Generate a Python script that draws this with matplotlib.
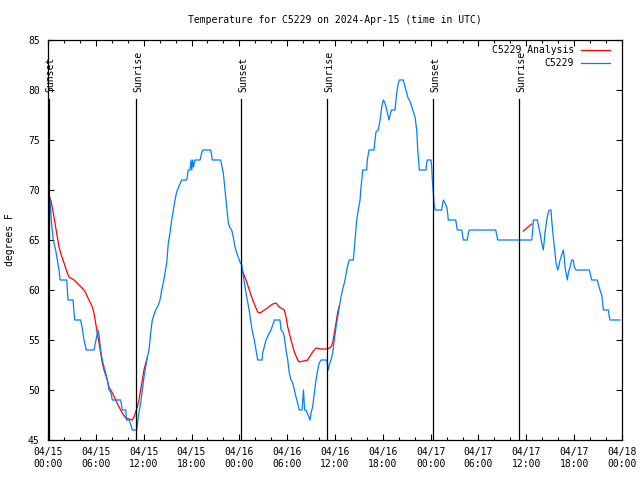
import numpy as np
import matplotlib
matplotlib.use('Agg')
import matplotlib.pyplot as plt
from matplotlib.ticker import MultipleLocator, FixedLocator

# hours since 2024-04-15 00:00 UTC
obs_hours = [0.00, 0.25, 0.41, 0.66, 0.96, 1.17, 1.38, 1.51, 2.35, 2.51, 3.14, 3.35, 4.10, 4.33, 4.52,
             4.80, 5.77, 6.02, 6.27, 6.40, 6.61, 6.81, 7.03, 7.24, 7.44, 7.65, 7.87, 8.07, 8.28, 9.12,
             9.32, 9.75, 9.85, 10.16, 10.41, 10.57, 11.13, 11.20, 11.35, 11.63, 11.83, 12.04, 12.46,
             12.67, 12.88, 13.08, 13.51, 13.84, 14.05, 14.26, 14.46, 14.68, 14.89, 15.09, 15.30, 15.52,
             15.72, 15.93, 16.14, 16.34, 16.77, 17.40, 17.60, 17.81, 17.94, 18.03, 18.15, 18.25, 18.44,
             19.07, 19.28, 19.41, 20.41, 20.61, 21.66, 21.83, 21.99, 22.20, 22.42, 22.62, 22.83, 23.04,
             23.24, 23.46, 23.67, 23.87, 24.08, 24.30, 24.52, 24.84, 25.25, 25.46, 25.68, 25.88, 26.09,
             26.30, 26.84, 26.93, 27.13, 27.35, 27.76, 27.97, 28.19, 28.39, 29.10, 29.23, 29.48, 29.64,
             29.86, 30.07, 30.27, 30.48, 30.70, 30.90, 31.11, 31.32, 31.52, 31.86, 31.95, 32.05, 32.18,
             32.36, 32.61, 32.87, 32.99, 33.20, 33.40, 33.62, 33.83, 34.03, 34.25, 34.96, 35.16, 35.31,
             35.50, 35.71, 35.91, 36.13, 36.34, 36.54, 36.75, 37.04, 37.26, 37.47, 37.67, 37.80, 38.30,
             38.38, 38.51, 38.72, 38.92, 39.14, 39.23, 39.35, 39.48, 39.98, 40.05, 40.27, 40.89, 41.02,
             41.14, 41.43, 41.65, 41.86, 42.06, 42.27, 42.49, 42.69, 42.78, 42.99, 43.11, 43.53, 43.74,
             43.94, 44.07, 44.57, 44.78, 45.00, 45.16, 45.32, 45.50, 45.75, 46.04, 46.25, 46.38, 46.58,
             47.42, 47.50, 47.58, 48.04, 48.13, 48.21, 48.33, 48.42, 48.55, 49.39, 49.51, 49.59, 49.80,
             50.01, 50.11, 50.21, 51.14, 51.24, 51.34, 51.90, 52.00, 52.10, 52.60, 52.72, 52.85, 56.16,
             56.28, 56.41, 60.68, 60.80, 60.88, 61.38, 61.50, 61.72, 61.93, 62.13, 62.34, 62.56, 62.76,
             62.88, 63.10, 63.18, 63.38, 63.60, 63.72, 63.94, 64.06, 64.23, 64.64, 64.77, 64.85, 64.98,
             65.14, 65.27, 65.48, 65.69, 65.89, 66.02, 66.23, 67.90, 68.05, 68.20, 68.90, 69.05, 69.24,
             69.46, 69.58, 69.66, 70.28, 70.41, 70.50, 71.75]
obs_temp = [70, 69, 67, 65, 64, 63, 62, 61, 61, 59, 59, 57, 57, 56, 55,
            54, 54, 55, 56, 55.5, 54, 53, 52.3, 51.7, 51, 50, 49.8, 49, 49, 49,
            48, 48, 47, 47, 46.5, 46, 46, 46.5, 47.5, 48.7, 50, 51.3, 53.3,
            54, 55.7, 57, 58, 58.5, 59, 60, 60.7, 61.7, 62.7, 64.7, 65.7, 67,
            68, 69, 69.8, 70.2, 71, 71, 72, 72, 73, 72, 73, 72.3, 73,
            73, 73.7, 74, 74, 73, 73, 72.3, 71.7, 70, 68.3, 66.7, 66.2, 66,
            65.3, 64.3, 63.7, 63.3, 62.8, 62.5, 61.3, 59.7, 57.9, 56.7, 55.7, 55, 54,
            53, 53, 53.7, 54.3, 55, 55.7, 56, 56.5, 57, 57, 56, 55.8, 55.3,
            54, 53, 51.7, 51, 50.7, 50, 49.3, 48.7, 48, 48, 49, 50, 48,
            48, 47.5, 47, 47.7, 48.3, 49.7, 51, 52, 52.7, 53, 53, 52, 52.6,
            53, 53.7, 55, 56.3, 57.3, 58.3, 59.3, 60.3, 61, 62, 62.7, 63, 63,
            63.7, 65, 67, 68, 69, 70, 71, 72, 72, 73, 74, 74, 75,
            75.8, 76, 77, 78.3, 79, 78.7, 78, 77.3, 77, 77.8, 78, 78, 79.7,
            80.7, 81, 81, 80.3, 79.7, 79.2, 79, 78.7, 78, 77.3, 76, 74, 72,
            72, 72.7, 73, 73, 72.3, 71, 69.7, 68.7, 68, 68, 68.7, 69, 68.7,
            68.3, 67.8, 67, 67, 66.5, 66, 66, 65.5, 65, 65, 65.7, 66, 66,
            65.5, 65, 65, 66, 67, 67, 66.5, 65.7, 64.7, 64, 65.7, 67, 67.8,
            68, 68, 67, 65.3, 63.7, 62.7, 62, 62.3, 63, 64, 63.2, 62.3, 61.7,
            61, 61.7, 62.3, 63, 63, 62.3, 62, 62, 61.5, 61, 61, 60.5, 60,
            59.5, 58.7, 58, 58, 57.3, 57, 57]

# analysis series, three separate pieces
ana1_hours = [0.25, 0.41, 0.75, 0.96, 1.17, 1.38, 1.59, 1.79, 2.01, 2.42, 2.63, 3.26, 3.89, 4.52,
              4.73, 5.14, 5.56, 5.77, 5.98, 6.18, 6.40, 6.61, 6.81, 7.03, 7.44, 7.65, 8.07, 8.49,
              8.91, 9.32, 9.75, 10.16, 10.57, 10.79, 11.00, 11.20, 11.41, 11.63, 11.83, 12.04,
              12.26, 12.46]
ana1_temp = [69.2, 68.8, 67.3, 66.3, 65.3, 64.3, 63.7, 63.2, 62.7, 61.7, 61.3, 61, 60.5, 60,
             59.7, 59, 58.3, 57.7, 56.7, 55.7, 54.7, 53.7, 52.7, 52, 51, 50.3, 49.7, 49,
             48.3, 47.7, 47.2, 47.1, 47, 47.3, 47.8, 48.3, 49, 50, 51, 52,
             52.7, 53.2]
ana2_hours = [24.45, 24.84, 25.25, 25.68, 26.09, 26.30, 26.59, 27.35, 28.19, 28.60, 29.02, 29.64,
              29.86, 30.07, 30.48, 30.90, 31.32, 31.52, 32.58, 32.78, 33.20, 33.62, 34.25, 34.87,
              35.29, 35.50, 35.71, 35.91, 36.13, 36.34, 36.54]
ana2_temp = [61.8, 61, 60, 59, 58.2, 57.8, 57.7, 58.1, 58.6, 58.7, 58.3, 58,
             57.3, 56.3, 55, 53.8, 53, 52.8, 53, 53.3, 53.8, 54.2, 54.1, 54.1,
             54.2, 54.3, 54.7, 55.7, 56.7, 57.8, 58.4]
ana3_hours = [59.62, 60.15, 60.68]
ana3_temp = [65.9, 66.25, 66.6]

sun_hours = [0.16, 11.08, 24.27, 35.04, 48.33, 59.12]
sun_labels = ['Sunset', 'Sunrise', 'Sunset', 'Sunrise', 'Sunset', 'Sunrise']

tick_hours = list(range(0, 73, 6))
tick_labels = ['04/15\n00:00', '04/15\n06:00', '04/15\n12:00', '04/15\n18:00',
               '04/16\n00:00', '04/16\n06:00', '04/16\n12:00', '04/16\n18:00',
               '04/17\n00:00', '04/17\n06:00', '04/17\n12:00', '04/17\n18:00',
               '04/18\n00:00']

plt.rcParams['font.family'] = ['DejaVu Sans Mono']
plt.rcParams['font.size'] = 7

fig = plt.figure(figsize=(6.4, 4.8), dpi=100)
ax = fig.add_axes([48/640, 40/480, 574/640, 400/480])

red = '#ff0000'
blue = '#0080ff'

ax.plot(ana1_hours, ana1_temp, color=red, lw=0.9)
ax.plot(ana2_hours, ana2_temp, color=red, lw=0.9)
ax.plot(ana3_hours, ana3_temp, color=red, lw=0.9)
ax.plot(obs_hours, obs_temp, color=blue, lw=0.9)

for h, lab in zip(sun_hours, sun_labels):
    ax.plot([h, h], [45, 79.1], color='black', lw=0.9, zorder=3)
    ax.text(h + 0.2, 79.8, lab, rotation=90, ha='center', va='bottom')

ax.set_xlim(0, 72)
ax.set_ylim(45, 85)
ax.xaxis.set_major_locator(FixedLocator(tick_hours))
ax.set_xticklabels(tick_labels)
ax.xaxis.set_minor_locator(MultipleLocator(2))
ax.yaxis.set_major_locator(MultipleLocator(5))
ax.tick_params(which='both', direction='in', top=True, right=True, color='black', width=0.8)
ax.tick_params(which='major', length=4.5)
ax.tick_params(which='minor', length=2.2)
ax.tick_params(axis='x', pad=5)
ax.tick_params(axis='y', pad=6)
for s in ax.spines.values():
    s.set_linewidth(0.9)

# legend, gnuplot style (text right aligned, sample on the right)
ax.text(0.9164, 0.975, 'C5229 Analysis', transform=ax.transAxes, ha='right', va='center')
ax.plot([0.9286, 0.9791], [0.975, 0.975], transform=ax.transAxes, color=red, lw=0.9)
ax.text(0.9164, 0.9425, 'C5229', transform=ax.transAxes, ha='right', va='center')
ax.plot([0.9286, 0.9791], [0.9425, 0.9425], transform=ax.transAxes, color=blue, lw=0.9)

fig.text(335/640, 1 - 20/480, 'Temperature for C5229 on 2024-Apr-15 (time in UTC)', ha='center', va='center')
fig.text(10/640, 0.5, 'degrees F', rotation=90, ha='center', va='center')

fig.savefig('out.png', dpi=100)
